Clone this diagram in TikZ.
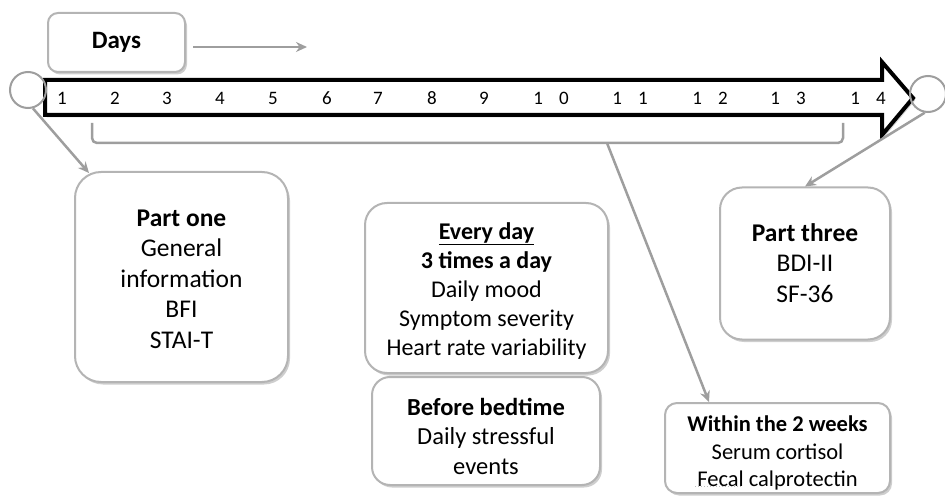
\documentclass[tikz,border=0pt]{standalone}
\usepackage{fontspec}
\setmainfont{Carlito}
\usetikzlibrary{positioning,arrows.meta,shadows,calc}
\definecolor{boxgray}{HTML}{B4B4B4}
\definecolor{linegray}{HTML}{9E9E9E}

\begin{document}
\begin{tikzpicture}[x=1pt,y=-1pt,
    infobox/.style={draw=boxgray, line width=2pt, fill=white, inner sep=0pt,
      drop shadow={shadow xshift=2pt, shadow yshift=-2.5pt, opacity=0.35, fill=black!55}},
    boxtext/.style={align=center, text=black, inner sep=0pt},
    link/.style={draw=linegray, line width=2.5pt, -{Stealth[length=11pt,width=10pt]}},
    daynum/.style={font=\fontsize{19}{19}\selectfont, text=black},
    endmark/.style={circle, draw=linegray, line width=2pt, minimum size=36pt, inner sep=0pt}]
    \useasboundingbox (0,0) rectangle (945,497);

    % the time line: 14 days
    \draw[line width=4pt, miter limit=20, fill=white,
      drop shadow={shadow xshift=2pt, shadow yshift=-2.5pt, opacity=0.3, fill=black!55}]
      (45,80) -- (882,80) -- (882,62) -- (913,98) -- (882,135) -- (882,115) -- (45,115) -- cycle;
    \foreach \d/\x in {1/62, 2/115, 3/167, 4/220, 5/273, 6/327, 7/378, 8/432, 9/484} {
      \node[daynum] (day\d) at (\x,98) {\d};
    }
    % two-digit days are set with a wide gap
    \foreach \d/\x in {0/551, 1/630, 2/710, 3/788, 4/868} {
      \node[daynum] (day1\d) at (\x,98) {1\hspace{16pt}\d};
    }
    \node[endmark] (startpt) at (28,90) {};
    \node[endmark] (endpt) at (928,94) {};

    % label of the axis
    \node[infobox, rounded corners=10pt, minimum width=137pt, minimum height=59pt] (days) at (116.5,42.5) {};
    \node[boxtext, font=\fontsize{25}{30}\selectfont\bfseries] (daystxt) at (days.center) {Days};
    \coordinate (daysend) at (307,47);
    \draw[link] (days.east |- daysend) ++(7,0) -- (daysend);

    % bracket over days 2 to 13
    \draw[linegray, line width=2.5pt, rounded corners=5pt] (92,123) -- (92,143) -- (843,143) -- (843,123);
    \coordinate (brmid) at (607,143);

    % boxes
    \node[infobox, rounded corners=26pt, minimum width=213pt, minimum height=210pt] (partone) at (181.5,277) {};
    \node[boxtext, font=\fontsize{25.5}{30.5}\selectfont] (partonetxt) at (181.5,279)
      {\textbf{Part one}\\General\\information\\BFI\\STAI-T};

    \node[infobox, rounded corners=22pt, minimum width=243pt, minimum height=170pt] (everyday) at (486.5,288) {};
    \node[boxtext, font=\fontsize{24}{29}\selectfont] (everydaytxt) at (486.5,291)
      {\underline{\textbf{Every day}}\\\textbf{3 times a day}\\Daily mood\\Symptom severity\\Heart rate variability};

    \node[infobox, rounded corners=18pt, minimum width=228pt, minimum height=108pt] (bedtime) at (486,431) {};
    \node[boxtext, font=\fontsize{24.5}{29.5}\selectfont] (bedtimetxt) at (486,436)
      {\textbf{Before bedtime}\\Daily stressful\\events};

    \node[infobox, rounded corners=22pt, minimum width=170pt, minimum height=152pt] (partthree) at (805,263.5) {};
    \node[boxtext, font=\fontsize{25.5}{30.5}\selectfont] (partthreetxt) at (805,263)
      {\textbf{Part three}\\BDI-II\\SF-36};

    \node[infobox, rounded corners=12pt, minimum width=225pt, minimum height=90pt] (within) at (777.5,448) {};
    \node[boxtext, font=\fontsize{22.5}{27.5}\selectfont] (withintxt) at (777.5,453)
      {\textbf{Within the 2 weeks}\\Serum cortisol\\Fecal calprotectin};
    \draw[linegray!70, line width=1pt, dotted] (695,486) -- (742,486);

    % connectors
    \coordinate (p1tip) at ($(partone.north west)+(15,2)$);
    \coordinate (wtip) at ($(within.north west)+(45,0)$);
    \draw[link] (startpt.-75) -- (p1tip);
    \draw[link] (endpt.-100) -- (partthree.north);
    \draw[link] (brmid) -- (wtip);
\end{tikzpicture}
\end{document}
